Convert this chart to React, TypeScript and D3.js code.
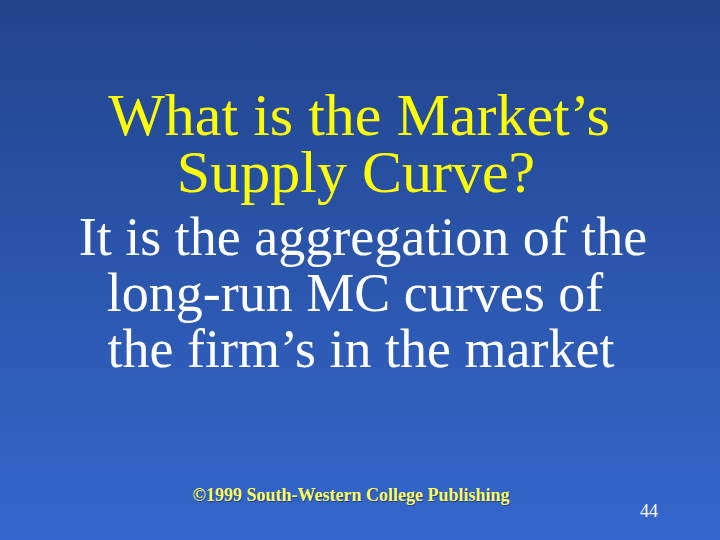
import React from "react";
import * as d3 from "d3";

const titleLines = ["What is the Market’s", "Supply Curve?"];
const bodyLines = [
  "It is the aggregation of the",
  "long-run MC curves of",
  "the firm’s in the market",
];
const footerText = "©1999 South-Western College Publishing";
const pageNumber = "44";

// horizontal centres measured off the slide
const titleCenters = [359, 356];
const bodyCenters = [363, 355, 361];

const WIDTH = 720;
const HEIGHT = 540;
const FONT = "'Liberation Serif', 'Times New Roman', serif";

export default function App() {
  const bg = d3.interpolateRgb("#21448b", "#3467cd");
  const stops = d3.range(0, 1.01, 0.25);

  const titleY = d3.scaleLinear().domain([0, 1]).range([135, 192]);
  const bodyY = d3.scaleLinear().domain([0, 1]).range([255, 311]);

  return (
    <svg
      width={WIDTH}
      height={HEIGHT}
      style={{ position: "absolute", left: 0, top: 0, display: "block" }}
    >
      <defs>
        <linearGradient id="bg" x1="0" y1="0" x2="0" y2="1">
          {stops.map((s) => (
            <stop key={s} offset={s} stopColor={bg(s)} />
          ))}
        </linearGradient>
      </defs>
      <rect width={WIDTH} height={HEIGHT} fill="url(#bg)" />

      {titleLines.map((t, i) => (
        <text
          key={t}
          x={titleCenters[i]}
          y={titleY(i)}
          textAnchor="middle"
          fontFamily={FONT}
          fontSize={60}
          fill="#ffff00"
        >
          {t}
        </text>
      ))}

      {bodyLines.map((t, i) => (
        <text
          key={t}
          x={bodyCenters[i]}
          y={bodyY(i)}
          textAnchor="middle"
          fontFamily={FONT}
          fontSize={54}
          fill="#ffffff"
        >
          {t}
        </text>
      ))}

      <text
        x={352}
        y={502}
        textAnchor="middle"
        fontFamily={FONT}
        fontSize={18}
        fontWeight="bold"
        fill="#1a2f66"
        opacity={0.7}
      >
        {footerText}
      </text>
      <text
        x={351}
        y={501}
        textAnchor="middle"
        fontFamily={FONT}
        fontSize={18}
        fontWeight="bold"
        fill="#ffff66"
      >
        {footerText}
      </text>

      <text
        x={649}
        y={517}
        textAnchor="middle"
        fontFamily={FONT}
        fontSize={18}
        fill="#ffffff"
      >
        {pageNumber}
      </text>
    </svg>
  );
}
